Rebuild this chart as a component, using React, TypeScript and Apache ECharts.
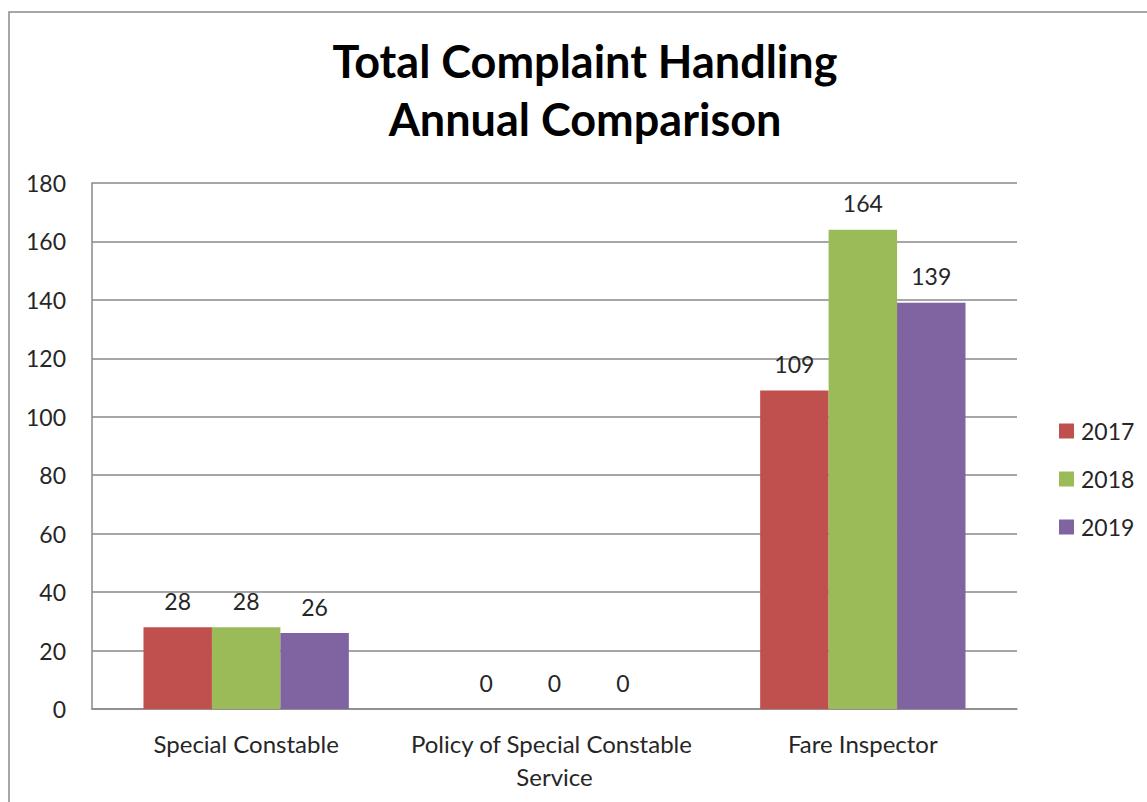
import React, { useEffect, useRef } from "react";
import * as echarts from "echarts";

const categories = ["Special Constable", "Policy of Special Constable Service", "Fare Inspector"];
const seriesNames = ["2017", "2018", "2019"];
const values2017 = [28, 0, 109];
const values2018 = [28, 0, 164];
const values2019 = [26, 0, 139];
const colors = ["#C0504D", "#9BBB59", "#8064A2"];
const titleText = "Total Complaint Handling\nAnnual Comparison";

export default function App() {
  const ref = useRef<HTMLDivElement>(null);
  useEffect(() => {
    if (!ref.current) return;
    const chart = echarts.init(ref.current, undefined, { renderer: "svg" });
    const font = "Lato, 'Open Sans', sans-serif";
    const allValues = [values2017, values2018, values2019];
    chart.setOption({
      animation: false,
      backgroundColor: "#ffffff",
      textStyle: { fontFamily: font },
      title: {
        text: titleText,
        left: 580,
        top: 27,
        textAlign: "center",
        textStyle: {
          fontFamily: font,
          fontWeight: "bold",
          fontSize: 45,
          lineHeight: 58,
          color: "#000000",
        },
      },
      graphic: [
        {
          type: "rect",
          shape: { x: 9, y: 12, width: 1300, height: 1000 },
          style: { fill: "none", stroke: "#8a8a8a", lineWidth: 1.5 },
          silent: true,
        },
      ],
      legend: {
        orient: "vertical",
        left: 1059,
        top: 419,
        padding: 0,
        itemWidth: 15,
        itemHeight: 15,
        itemGap: 24,
        icon: "rect",
        textStyle: { fontFamily: font, fontSize: 23, color: "#262626", lineHeight: 24, padding: [0, 0, 0, 2] },
        data: seriesNames,
      },
      grid: { left: 92, top: 183, right: 130, bottom: 93, containLabel: false },
      xAxis: {
        type: "category",
        data: categories,
        axisLine: { show: true, lineStyle: { color: "#898989", width: 1.5 } },
        axisTick: { show: false },
        axisLabel: {
          interval: 0,
          fontFamily: font,
          fontSize: 24,
          color: "#262626",
          lineHeight: 33,
          margin: 18,
          width: 320,
          overflow: "break",
        },
      },
      yAxis: {
        type: "value",
        min: 0,
        max: 180,
        interval: 20,
        axisLine: { show: true, lineStyle: { color: "#898989", width: 1.5 } },
        axisTick: { show: false },
        splitLine: { show: true, lineStyle: { color: "#898989", width: 1.5 } },
        axisLabel: { fontFamily: font, fontSize: 23, color: "#262626", margin: 26 },
      },
      series: seriesNames.map((name, i) => ({
        name,
        type: "bar",
        data: allValues[i],
        barWidth: "22.2%",
        barGap: "0%",
        itemStyle: { color: colors[i] },
        label: {
          show: true,
          position: "top",
          distance: 15,
          fontFamily: font,
          fontSize: 23,
          color: "#262626",
        },
      })),
    });
    return () => chart.dispose();
  }, []);
  return (
    <div
      ref={ref}
      style={{ position: "fixed", left: 0, top: 0, width: 1147, height: 802 }}
    />
  );
}
